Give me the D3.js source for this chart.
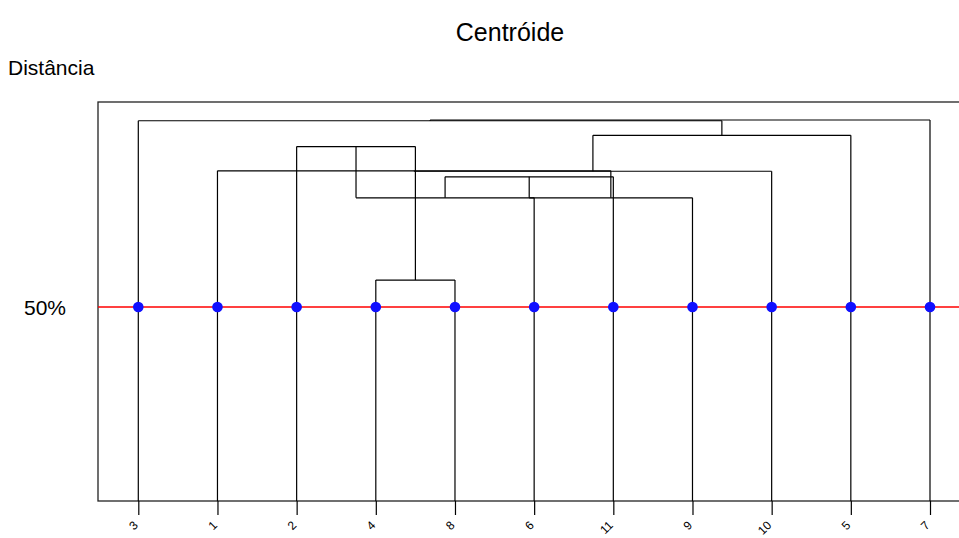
<!DOCTYPE html>
<html>
<head>
<meta charset="utf-8">
<script src="https://cdn.jsdelivr.net/npm/d3@7"></script>
<style>
  html, body { margin: 0; padding: 0; background: #fff; }
  svg { display: block; font-family: "Liberation Sans", Arial, sans-serif; }
</style>
</head>
<body>
<svg id="chart" width="959" height="538"></svg>
<script>
// Leaf order along the x axis
const leafLabels = ["3", "1", "2", "4", "8", "6", "11", "9", "10", "5", "7"];

// Merge table: negative = leaf label, positive = earlier merge (1-based)
const mergeLeft  = [-4, -2, 2, 3, 4, -1, 6, 7, -3, 9];
const mergeRight = [-8,  1, -6, -11, -9, 5, -10, -5, 8, -7];
// Merge heights, % of the largest distance (centroid linkage, with inversions)
const mergeHeights = [57.2, 92.9, 79.2, 84.8, 79.2, 86.4, 86.3, 95.9, 99.8, 100];

// Cut level drawn as the reference line
const cutLevel = 50;
const cutLabel = "50%";

const titleText = "Centróide";
const yTitle = "Distância";

const svg = d3.select("#chart");
const W = 959, H = 538;

const box = { left: 98, top: 102, right: 972, bottom: 501 };

const x = d3.scalePoint().domain(leafLabels).range([138.3, 930]);
const y = d3.scaleLinear().domain([0, 100]).range([494, 120]);

// Clip to the visible page
svg.append("defs").append("clipPath").attr("id", "pageclip")
  .append("rect").attr("x", 0).attr("y", 0).attr("width", W).attr("height", H);

const g = svg.append("g").attr("clip-path", "url(#pageclip)");

// Plot frame
g.append("rect")
  .attr("x", box.left).attr("y", box.top)
  .attr("width", box.right - box.left).attr("height", box.bottom - box.top)
  .attr("fill", "none").attr("stroke", "#222").attr("stroke-width", 1.3);

// Position of each node
const nodeX = new Map();   // key: "L<label>" or "M<index>"
const nodeH = new Map();
leafLabels.forEach(l => { nodeX.set("L" + l, x(l)); nodeH.set("L" + l, null); });
const key = v => v < 0 ? "L" + (-v) : "M" + v;

const segs = [];
mergeHeights.forEach((h, i) => {
  const a = key(mergeLeft[i]), b = key(mergeRight[i]);
  const xa = nodeX.get(a), xb = nodeX.get(b);
  const yh = y(h);
  // horizontal bar of this merge
  segs.push([xa, yh, xb, yh]);
  // vertical drops to each child (leaves run down to the frame)
  [[a, xa], [b, xb]].forEach(([k, xx]) => {
    const ch = nodeH.get(k);
    const y0 = ch === null ? box.bottom : y(ch);
    segs.push([xx, y0, xx, yh]);
  });
  const m = "M" + (i + 1);
  nodeX.set(m, (xa + xb) / 2);
  nodeH.set(m, h);
});

g.append("g").selectAll("line").data(segs).join("line")
  .attr("x1", d => d[0]).attr("y1", d => d[1])
  .attr("x2", d => d[2]).attr("y2", d => d[3])
  .attr("stroke", "#000").attr("stroke-width", 1.2);

// Cut line
g.append("line")
  .attr("x1", box.left).attr("x2", box.right)
  .attr("y1", y(cutLevel)).attr("y2", y(cutLevel))
  .attr("stroke", "#ff0000").attr("stroke-width", 1.3);

// Leaf markers on the cut line
g.append("g").selectAll("circle").data(leafLabels).join("circle")
  .attr("cx", d => x(d)).attr("cy", y(cutLevel)).attr("r", 5.3)
  .attr("fill", "#1010ff");

// Bottom axis: ticks and rotated leaf labels
const xAxis = d3.axisBottom(x).tickSize(14).tickPadding(0);
const ax = g.append("g").attr("transform", `translate(0,${box.bottom})`).call(xAxis);
ax.select(".domain").remove();
ax.selectAll(".tick line").attr("stroke", "#000").attr("stroke-width", 1.2);
ax.selectAll(".tick text")
  .attr("fill", "#000")
  .attr("font-size", 12)
  .attr("text-anchor", "end")
  .attr("dy", null)
  .attr("y", 0)
  .attr("transform", "translate(0,25) rotate(-45)");

// Titles
svg.append("text").attr("x", 510).attr("y", 41)
  .attr("text-anchor", "middle").attr("font-size", 25).text(titleText);
svg.append("text").attr("x", 8).attr("y", 75)
  .attr("font-size", 21).text(yTitle);
svg.append("text").attr("x", 24).attr("y", y(cutLevel) + 7.5)
  .attr("font-size", 21).text(cutLabel);
</script>
</body>
</html>
